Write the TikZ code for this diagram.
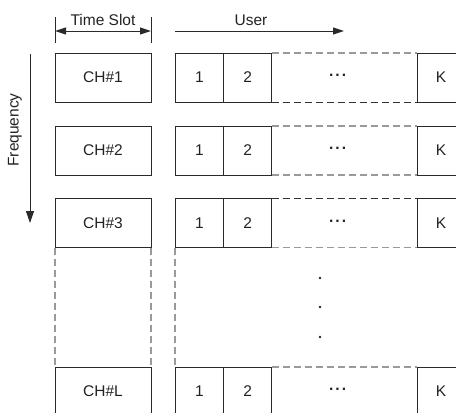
\documentclass[tikz,border=0pt]{standalone}
\usepackage{fontspec}
\setmainfont{Liberation Sans}
\usetikzlibrary{arrows.meta}
\definecolor{linec}{HTML}{2A2A2A}
\definecolor{dashg}{HTML}{9A9A9A}
\definecolor{dashk}{HTML}{333333}
\definecolor{txt}{HTML}{222222}
\newcommand{\hdots}{{\bfseries\textperiodcentered\kern1.2pt\textperiodcentered\kern1.2pt\textperiodcentered}}
\begin{document}
\begin{tikzpicture}[x=1pt,y=-1pt,
  every node/.style={font=\fontsize{15.5}{18}\selectfont, text=txt},
  chbox/.style={draw=linec, line width=0.9pt, minimum width=96pt, minimum height=49pt, inner sep=0pt, outer sep=0pt},
  ucell/.style={draw=linec, line width=0.9pt, minimum width=48pt, minimum height=49pt, inner sep=0pt, outer sep=0pt},
  gdash/.style={draw=dashg, line width=1.1pt, dash pattern=on 7pt off 4pt},
  kdash/.style={draw=dashk, line width=1pt, dash pattern=on 7pt off 4pt},
  arr/.style={draw=linec, line width=1pt, -{Triangle[length=11pt,width=7pt]}},
  darr/.style={draw=linec, line width=1pt, {Triangle[length=11pt,width=7pt]}-{Triangle[length=11pt,width=7pt]}},
  bar/.style={draw=linec, line width=1pt},
  dotm/.style={circle, fill=txt, inner sep=0pt, minimum size=2.8pt}
]
\useasboundingbox (0,0) rectangle (456,413);
\clip (0,0) rectangle (456,413);

% header arrows
\coordinate (tsL) at (55,31);
\coordinate (tsR) at (151,31);
\draw[bar] (55,17) -- (55,43);
\draw[bar] (151,17) -- (151,43);
\draw[darr] (tsL) -- (tsR);
\node at (103,20) {Time Slot};

\coordinate (uA) at (175,31);
\coordinate (uB) at (344,31);
\draw[arr] (uA) -- (uB);
\node at (251,20) {User};

% frequency
\coordinate (fA) at (30,54);
\coordinate (fB) at (30,223);
\draw[arr, -{Triangle[length=12pt,width=8pt]}] (fA) -- (fB);
\node[rotate=90] at (15,130) {Frequency};

% rows
\foreach \r/\y/\lab in {1/77.5/1, 2/150.5/2, 3/223/3, 4/391.5/L}{
  \node[chbox] (ch\r) at (103,\y) {CH\#\lab};
  \node[ucell, minimum width=48.7pt] (a\r) at (199.35,\y) {1};
  \node[ucell] (b\r) at (247.7,\y) {2};
  \node[ucell] (k\r) at (441,\y) {K};
  \node (d\r) at (338,\y) {\hdots};
}

% dashed connections
\draw[gdash] (b1.north east) -- (k1.north west);
\draw[kdash] (b1.south east) -- (k1.south west);
\draw[gdash] (b2.north east) -- (k2.north west);
\draw[gdash] (b2.south east) -- (k2.south west);
\draw[kdash] (b3.north east) -- (k3.north west);
\draw[gdash] (b3.south east) -- (k3.south west);
\draw[gdash] (b4.north east) -- (k4.north west);

% vertical dashed gap
\draw[gdash] (ch3.south west) -- (ch4.north west);
\draw[gdash] (ch3.south east) -- (ch4.north east);
\draw[gdash] (a3.south west) -- (a4.north west);
\draw[gdash] (k3.south east) -- (k4.north east);

% vertical dots
\node[dotm] (v1) at (320,278) {};
\node[dotm] (v2) at (320,307) {};
\node[dotm] (v3) at (320,337) {};
\end{tikzpicture}
\end{document}
